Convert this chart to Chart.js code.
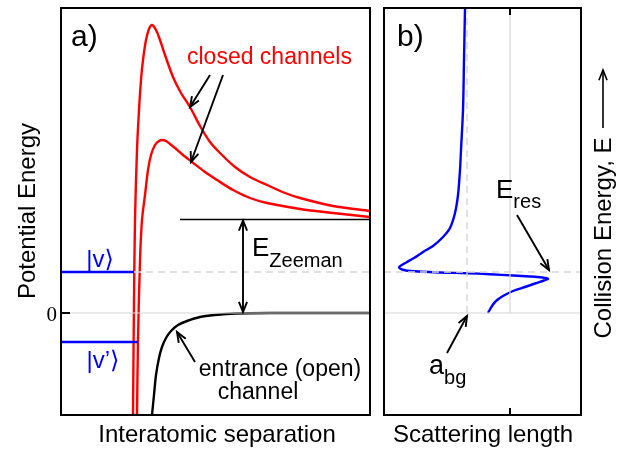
<!DOCTYPE html>
<html>
<head>
<meta charset="utf-8">
<script src="https://cdn.jsdelivr.net/npm/chart.js@4"></script>
<style>
  body { margin: 0; background: #fff; }
  canvas { position: absolute; top: 0; }
  #chA { left: 0; }
  #chB { left: 378px; }
</style>
</head>
<body>
<canvas id="chA" width="378" height="451"></canvas>
<canvas id="chB" width="245" height="451"></canvas>
<script>
// panel a: potential curves, separation (arb.) vs energy (arb.)
const sepClosed1 = [7.2, 7.3, 7.4, 7.6, 7.8, 8.0, 8.2, 8.5, 8.8, 9.1, 9.5, 9.9, 10.4, 11.2, 12.0, 12.9, 13.9, 14.9, 15.9, 17.4, 18.9, 20.6, 22.4, 23.9, 27.2, 30.9];
const potClosed1 = [-10.2, 1.3, 9.3, 16.3, 20.3, 23.3, 25.3, 27.3, 28.4, 28.8, 28.3, 27.3, 25.8, 23.6, 22.0, 20.6, 18.7, 17.1, 16.0, 14.6, 13.6, 12.8, 12.0, 11.5, 10.7, 10.2];
const sepClosed2 = [7.6, 7.7, 7.9, 8.1, 8.4, 8.7, 9.0, 9.4, 9.8, 10.1, 10.5, 10.9, 11.4, 12.2, 13.1, 14.4, 15.6, 17.2, 18.9, 20.6, 23.9, 27.2, 30.9];
const potClosed2 = [-10.2, -2.7, 5.3, 9.3, 11.8, 14.3, 15.8, 16.8, 17.2, 17.3, 17.2, 16.9, 16.5, 15.8, 15.1, 14.1, 13.3, 12.3, 11.5, 11.0, 10.4, 10.0, 9.6];
const sepEntrance = [9.1, 9.3, 9.5, 9.8, 10.1, 10.5, 11.0, 11.7, 12.6, 13.9, 15.4, 17.4, 20.9, 30.9];
const potEntrance = [-10.2, -8.2, -6.2, -4.5, -3.4, -2.5, -1.8, -1.2, -0.8, -0.4, -0.2, -0.05, 0, 0];
const levelNames = ['|v\u27E9', '|v\u2019\u27E9'];
const levelEnergies = [4.1, -2.9];
const levelWallSep = [7.3, 7.7];
const zeemanThreshold = 9.35;
const zeemanLineStart = 11.9;

// panel b: scattering length vs collision energy
const resEnergy = [30.5, 25.3, 20.3, 16.3, 14.3, 11.8, 10.0, 8.5, 7.6, 6.7, 6.1, 5.5, 5.1, 4.75, 4.55, 4.35, 4.2, 4.05, 3.98, 3.88, 3.75, 3.65, 3.55, 3.43, 3.25, 2.95, 2.6, 2.2, 1.7, 1.2, 0.7, 0.0];
const scatLength = [-4.5, -4.6, -4.7, -4.9, -5.0, -5.2, -5.5, -6.0, -6.7, -7.7, -8.7, -9.6, -10.3, -10.9, -11.1, -10.8, -10.0, -7.0, -4.3, -2.0, 0.3, 2.0, 3.2, 3.8, 3.4, 2.5, 1.5, 0.3, -0.7, -1.4, -1.8, -2.2];
const aBackground = -4.3;

const sepRange = [0, 30.9];
const energyRange = [-10.2, 30.5];
const scatRange = [-12.6, 7.1];

const SANS = '"Liberation Sans", Arial, "DejaVu Sans", sans-serif';
const GRID = '#d6d6d6';

function pts(xs, ys) {
  return xs.map((x, i) => ({ x: x, y: ys[i] }));
}

function head(ctx, x1, y1, x2, y2) {
  const a = Math.atan2(y2 - y1, x2 - x1), L = 11, w = 0.38;
  ctx.beginPath();
  ctx.moveTo(x2 - L * Math.cos(a - w), y2 - L * Math.sin(a - w));
  ctx.lineTo(x2, y2);
  ctx.lineTo(x2 - L * Math.cos(a + w), y2 - L * Math.sin(a + w));
  ctx.stroke();
}

function arrow(ctx, x1, y1, x2, y2, both) {
  ctx.beginPath();
  ctx.moveTo(x1, y1);
  ctx.lineTo(x2, y2);
  ctx.stroke();
  head(ctx, x1, y1, x2, y2);
  if (both) head(ctx, x2, y2, x1, y1);
}

function subText(ctx, big, small, x, y, bigSize, smallSize, drop) {
  ctx.font = bigSize + 'px ' + SANS;
  ctx.fillText(big, x, y);
  const w = ctx.measureText(big).width;
  ctx.font = smallSize + 'px ' + SANS;
  ctx.fillText(small, x + w, y + drop);
}

function line(label, data, color, width, dash) {
  return {
    label: label, data: data, showLine: true, borderColor: color, borderWidth: width,
    borderDash: dash || [], pointRadius: 0, tension: 0, fill: false
  };
}

function curve(label, data, color) {
  const d = line(label, data, color, 2.4);
  d.tension = 0.3;
  d.borderJoinStyle = 'round';
  return d;
}

const decorA = {
  id: 'decorA',
  afterDraw(chart) {
    const ctx = chart.ctx, a = chart.chartArea;
    const xs = chart.scales.x, ys = chart.scales.y;
    ctx.save();
    ctx.strokeStyle = '#000';
    ctx.fillStyle = '#000';
    ctx.lineWidth = 2;
    ctx.strokeRect(a.left, a.top, a.right - a.left, a.bottom - a.top);
    // zero tick + label
    const y0 = ys.getPixelForValue(0);
    ctx.beginPath(); ctx.moveTo(a.left, y0); ctx.lineTo(a.left + 9, y0); ctx.stroke();
    ctx.font = '21px "Liberation Serif", serif';
    ctx.textAlign = 'right';
    ctx.fillText('0', 57, y0 + 8);
    ctx.textAlign = 'left';
    ctx.font = '30px ' + SANS;
    ctx.fillText('a)', 71, 46);
    // closed channels
    ctx.fillStyle = '#ff0000';
    ctx.font = '23px ' + SANS;
    ctx.fillText('closed channels', 187, 64);
    ctx.lineWidth = 1.9;
    arrow(ctx, 210, 75, 190, 107);
    arrow(ctx, 223, 75, 191, 162);
    // Zeeman
    const xz = xs.getPixelForValue(18.2);
    arrow(ctx, xz, ys.getPixelForValue(zeemanThreshold) + 1, xz, y0 - 1, true);
    ctx.fillStyle = '#000';
    subText(ctx, 'E', 'Zeeman', 252, 256, 26, 20, 11);
    // entrance
    arrow(ctx, 195, 362, 177, 332);
    ctx.font = '23px ' + SANS;
    ctx.textAlign = 'center';
    ctx.fillText('entrance (open)', 280, 376);
    ctx.fillText('channel', 258, 399);
    // bound state labels
    ctx.fillStyle = '#0000ff';
    ctx.font = '24px ' + SANS;
    ctx.fillText(levelNames[0], 100, ys.getPixelForValue(levelEnergies[0]) - 5);
    ctx.fillText(levelNames[1], 103, ys.getPixelForValue(levelEnergies[1]) + 26);
    // axis titles
    ctx.fillStyle = '#000';
    ctx.font = '24px ' + SANS;
    ctx.fillText('Interatomic separation', 217, 442);
    ctx.translate(35, 211);
    ctx.rotate(-Math.PI / 2);
    ctx.fillText('Potential Energy', 0, 0);
    ctx.restore();
  }
};

const decorB = {
  id: 'decorB',
  afterDraw(chart) {
    const ctx = chart.ctx, a = chart.chartArea;
    const xs = chart.scales.x, ys = chart.scales.y;
    ctx.save();
    ctx.strokeStyle = '#000';
    ctx.fillStyle = '#000';
    ctx.lineWidth = 2;
    ctx.strokeRect(a.left, a.top, a.right - a.left, a.bottom - a.top);
    const x0 = xs.getPixelForValue(0);
    ctx.beginPath();
    ctx.moveTo(x0, a.top); ctx.lineTo(x0, a.top + 7);
    ctx.moveTo(x0, a.bottom); ctx.lineTo(x0, a.bottom - 7);
    ctx.stroke();
    ctx.font = '30px ' + SANS;
    ctx.fillText('b)', 19, 46);
    ctx.lineWidth = 1.9;
    // E_res
    subText(ctx, 'E', 'res', 118, 198, 26, 20, 10);
    arrow(ctx, 139, 215, 171, 270);
    // a_bg
    const xb = xs.getPixelForValue(aBackground), y0 = ys.getPixelForValue(0);
    arrow(ctx, 69, 353, xb, y0 + 3);
    subText(ctx, 'a', 'bg', 51, 374, 27, 20, 10);
    // titles
    ctx.font = '24px ' + SANS;
    ctx.textAlign = 'center';
    ctx.fillText('Scattering length', 105, 442);
    ctx.translate(233, 238);
    ctx.rotate(-Math.PI / 2);
    ctx.fillText('Collision Energy, E', 0, 0);
    ctx.lineWidth = 1.6;
    arrow(ctx, 110, -8, 168, -8);
    ctx.restore();
  }
};

function scalesFor(xr) {
  return {
    x: { type: 'linear', min: xr[0], max: xr[1], display: false },
    y: { type: 'linear', min: energyRange[0], max: energyRange[1], display: false }
  };
}

const commonOpts = {
  responsive: false,
  animation: false,
  events: [],
  plugins: { legend: { display: false }, tooltip: { enabled: false } }
};

new Chart(document.getElementById('chA'), {
  type: 'scatter',
  data: {
    datasets: [
      line('zero', pts(sepRange, [0, 0]), GRID, 1.2),
      line('v dashed', pts([levelWallSep[0], sepRange[1]], [levelEnergies[0], levelEnergies[0]]), GRID, 1.4, [7, 5]),
      line('threshold', pts([zeemanLineStart, sepRange[1]], [zeemanThreshold, zeemanThreshold]), '#000', 1.5),
      line(levelNames[0], pts([0, levelWallSep[0]], [levelEnergies[0], levelEnergies[0]]), '#0000ff', 2.4),
      line(levelNames[1], pts([0, levelWallSep[1]], [levelEnergies[1], levelEnergies[1]]), '#0000ff', 2.4),
      curve('closed 1', pts(sepClosed1, potClosed1), '#ff0000'),
      curve('closed 2', pts(sepClosed2, potClosed2), '#ff0000'),
      curve('entrance', pts(sepEntrance, potEntrance), '#000')
    ]
  },
  options: Object.assign({}, commonOpts, {
    layout: { padding: { left: 61, top: 8, right: 8, bottom: 36 } },
    scales: scalesFor(sepRange)
  }),
  plugins: [decorA]
});

new Chart(document.getElementById('chB'), {
  type: 'scatter',
  data: {
    datasets: [
      line('zero', pts(scatRange, [0, 0]), GRID, 1.2),
      line('res level', pts(scatRange, [levelEnergies[0], levelEnergies[0]]), GRID, 1.4, [7, 5]),
      line('a=0', pts([0, 0], [0, energyRange[1]]), GRID, 1.2),
      line('a_bg', pts([aBackground, aBackground], [0, energyRange[1]]), GRID, 1.4, [7, 5]),
      curve('a(E)', pts(scatLength, resEnergy), '#0000ff')
    ]
  },
  options: Object.assign({}, commonOpts, {
    layout: { padding: { left: 6, top: 8, right: 42, bottom: 36 } },
    scales: scalesFor(scatRange)
  }),
  plugins: [decorB]
});
</script>
</body>
</html>
